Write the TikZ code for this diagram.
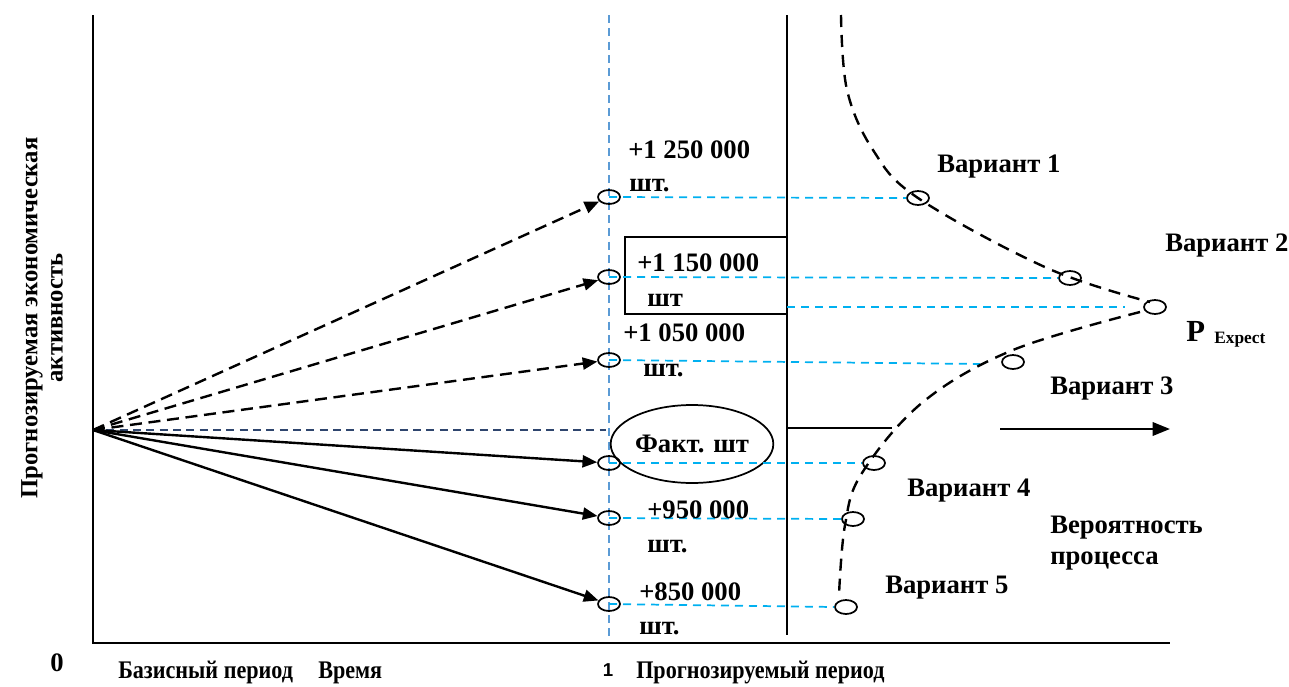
\documentclass[tikz,border=0pt]{standalone}
\usepackage{graphicx}
\usepackage{fontspec}
\setmainfont{Liberation Serif}
\newfontfamily\sansf{Liberation Sans}
\usetikzlibrary{arrows.meta,shapes.geometric}
\definecolor{cyanl}{RGB}{0,176,240}
\definecolor{steel}{RGB}{91,155,213}
\definecolor{navyd}{RGB}{47,70,110}
\begin{document}
\begin{tikzpicture}[x=0.75pt,y=-0.75pt,
  lbl/.style={font=\fontsize{20}{22}\selectfont\bfseries, inner sep=0pt, anchor=west, text height=13pt, text depth=0pt},
  blbl/.style={font=\fontsize{20}{22}\selectfont\bfseries, inner sep=0pt, anchor=west, text height=12pt, text depth=0pt},
  pt/.style={ellipse, draw, line width=1.3pt, minimum width=16.5pt, minimum height=10.5pt, inner sep=0pt},
  darr/.style={line width=1.8pt, dash pattern=on 9pt off 5pt, -{Triangle[length=11pt,width=9pt]}},
  sarr/.style={line width=1.8pt, -{Triangle[length=11pt,width=9pt]}},
  bdash/.style={cyanl, line width=1.3pt, dash pattern=on 6pt off 4.5pt},
  vdash/.style={steel, line width=1.2pt, dash pattern=on 6pt off 4pt},
  ndash/.style={navyd, line width=1.2pt, dash pattern=on 6pt off 4pt},
  cdash/.style={line width=1.8pt, dash pattern=on 9pt off 6pt},
  axisl/.style={line width=1.5pt}
]
\useasboundingbox (0,0) rectangle (1289,686);
% coordinates
\coordinate (O) at (93,430);
\coordinate (Ytop) at (93,15);
\coordinate (Ybot) at (93,643);
\coordinate (Xend) at (1170,643);
\coordinate (Btop) at (609,15);
\coordinate (Bbot) at (609,640);
\coordinate (Ktop) at (787,15);
\coordinate (Kbot) at (787,635);
\coordinate (F0) at (606,430);
\coordinate (b2) at (787,307);
\coordinate (e2) at (1125,307);
\coordinate (e3) at (980,364);
\coordinate (h1) at (787,428);
\coordinate (h2) at (892,428);
\coordinate (a1) at (1000,429);
\coordinate (a2) at (1170,429);
% axes and vertical lines
\draw[axisl] (Ytop) -- (Ybot) -- (Xend);
\draw[vdash] (Btop) -- (Bbot);
\draw[line width=1.8pt] (Ktop) -- (Kbot);
% box and ellipse
\node[draw, line width=1.3pt, minimum width=121.5pt, minimum height=57.75pt, inner sep=0pt] (box) at (706,275.5) {};
\node[ellipse, draw, line width=1.3pt, minimum width=122pt, minimum height=58.5pt, inner sep=0pt, font=\fontsize{20}{22}\selectfont\bfseries] (fact) at (692,444) {Факт. шт};
% circles at time 1
\node[pt] (c1) at (609,197) {};
\node[pt] (c2) at (609,277) {};
\node[pt] (c3) at (609,360) {};
\node[pt] (c4) at (609,463) {};
\node[pt] (c5) at (609,518) {};
\node[pt] (c6) at (609,604) {};
% variant circles
\node[pt] (v1) at (918,198) {};
\node[pt] (v2) at (1070,278) {};
\node[pt] (vp) at (1155,307) {};
\node[pt] (v3) at (1013,362) {};
\node[pt] (v4) at (874,463) {};
\node[pt] (v5) at (853,519) {};
\node[pt] (v6) at (846,607) {};
% arrows
\draw[ndash] (O) -- (F0);
\foreach \t in {c1,c2,c3} \draw[darr] (O) -- (\t);
\foreach \t in {c4,c5,c6} \draw[sarr] (O) -- (\t);
% blue horizontals
\draw[bdash] (c1.center) -- (v1.west);
\draw[bdash] (c2.center) -- (v2.west);
\draw[bdash] (b2) -- (e2);
\draw[bdash] (c3.center) -- (e3);
\draw[bdash] (c4.center) -- (v4.west);
\draw[bdash] (c5.center) -- (v5.west);
\draw[bdash] (c6.center) -- (v6.west);
% curves
\draw[cdash] plot[smooth, tension=0.6] coordinates {(841,15) (847,90) (873,150) (918,198) (1047,268) (1150,302)};
\draw[cdash] plot[smooth, tension=0.6] coordinates {(1140,312) (1013,350) (923,402) (862,473) (845,525) (839,595)};
% black horizontal lines
\draw[line width=1.8pt] (h1) -- (h2);
\draw[line width=1.8pt, -{Triangle[length=13pt,width=10pt]}] (a1) -- (a2);
% value labels
\node[lbl] (t1) at (628,150) {+1 250 000};
\node[lbl] (u1) at (629,183) {шт.};
\node[lbl] (t2) at (637,263) {+1 150 000};
\node[lbl] (u2) at (647,298) {шт};
\node[lbl] (t3) at (623,333) {+1 050 000};
\node[lbl] (u3) at (643,368) {шт.};
\node[lbl] (t5) at (647,510) {+950 000};
\node[lbl] (u5) at (647,544) {шт.};
\node[lbl] (t6) at (639,592) {+850 000};
\node[lbl] (u6) at (639,626) {шт.};
% variant labels
\node[lbl] (w1) at (937,164) {Вариант 1};
\node[lbl] (w2) at (1165,243) {Вариант 2};
\node[lbl, anchor=base west, text height=, text depth=] (wp) at (1186,341) {\fontsize{23}{25}\selectfont P\hspace{7pt}\raisebox{-2pt}{\fontsize{13}{14}\selectfont Expect}};
\node[lbl] (w3) at (1050,386) {Вариант 3};
\node[lbl] (w4) at (907,488) {Вариант 4};
\node[lbl] (pr1) at (1050,525) {Вероятность};
\node[lbl] (pr2) at (1050,556) {процесса};
\node[lbl] (w5) at (885,585) {Вариант 5};
% axis labels
\node[font=\fontsize{20}{22}\selectfont\bfseries, inner sep=0pt] (zero) at (57,663) {0};
\node[blbl] (bp) at (118,670) {\scalebox{0.83}[0.95]{Базисный период}};
\node[blbl] (tm) at (318,670) {\scalebox{0.83}[0.95]{Время}};
\node[font=\sansf\fontsize{14}{16}\selectfont\bfseries, inner sep=0pt] (one) at (608,670) {1};
\node[blbl] (pp) at (636,670) {\scalebox{0.83}[0.95]{Прогнозируемый период}};
\node[rotate=90, align=center, font=\fontsize{18.5}{19}\selectfont\bfseries, inner sep=0pt] (ylab) at (42,318) {Прогнозируемая экономическая\\активность};
\end{tikzpicture}
\end{document}
